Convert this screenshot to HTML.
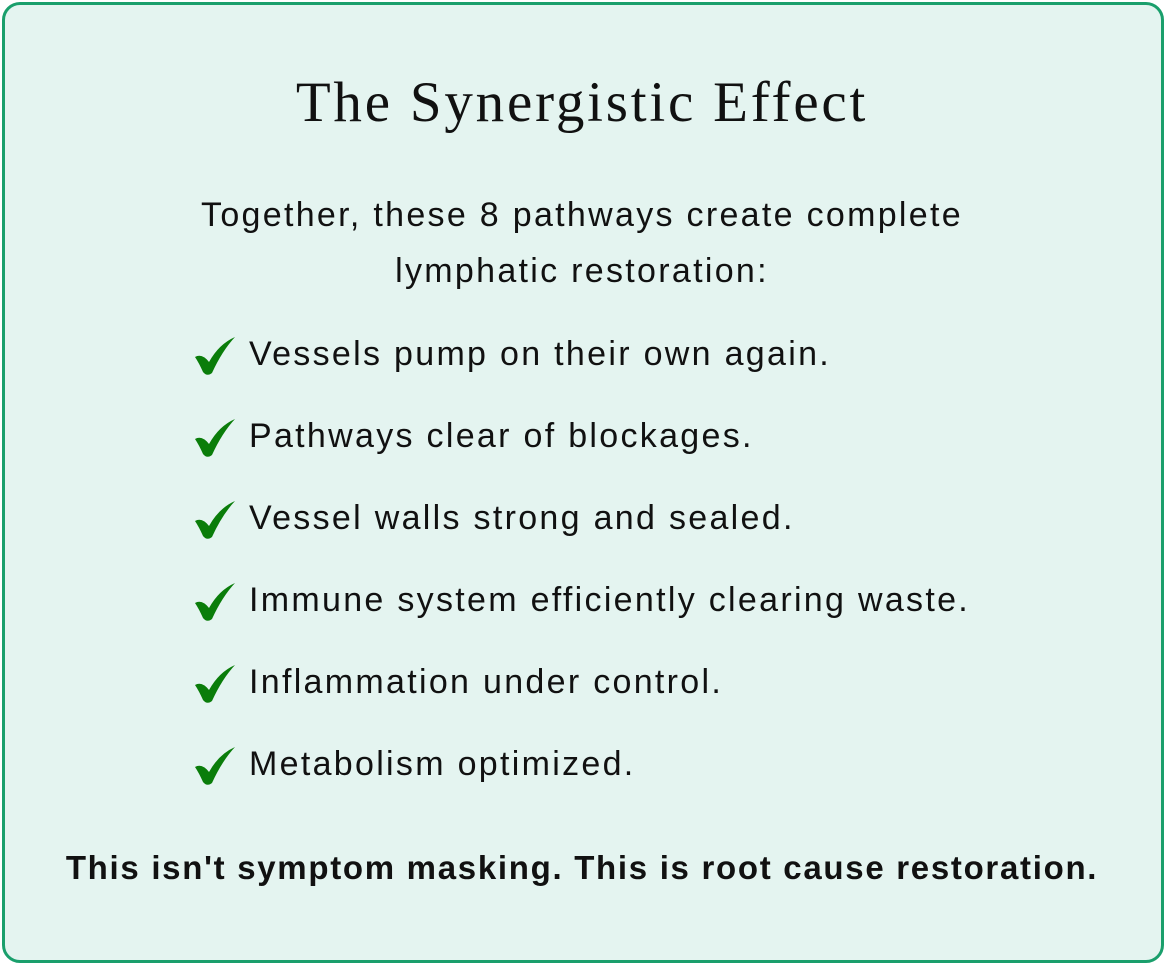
<!DOCTYPE html>
<html><head><style>
body{margin:0;width:1164px;height:963px;background:#fff;font-family:"Liberation Sans",sans-serif;}
.box{position:absolute;left:2px;top:2px;width:1156px;height:955px;border:3px solid #1a9f6c;border-radius:18px;background:#e4f4f0;}
.t{position:absolute;left:0;width:1164px;text-align:center;color:#111;white-space:nowrap;}
.title{font-family:"Liberation Serif",serif;font-size:57px;letter-spacing:2.8px;top:70px;}
.sub{font-size:34px;letter-spacing:2.3px;line-height:56px;top:187px;}
.item{position:absolute;left:194px;font-size:34px;letter-spacing:2.3px;color:#111;white-space:nowrap;height:50px;line-height:50px;}
.item svg{position:absolute;left:0;top:6px;}
.item span{position:absolute;left:55px;}
.bot{font-size:33px;letter-spacing:1.7px;font-weight:bold;top:849px;}
</style></head><body>
<div class="box"></div>
<div class="t title">The Synergistic Effect</div>
<div class="t sub">Together, these 8 pathways create complete<br>lymphatic restoration:</div>
<svg width="0" height="0" style="position:absolute"><defs><path id="ck" d="M1 22 Q8 18 15 27 Q25 9 41 2 Q28 16 18 38 Q13 42 9 37 Q5 28 1 22 Z" fill="#0a7d0a"/></defs></svg>
<div class="item" style="top:329px"><svg width="44" height="42"><use href="#ck"/></svg><span>Vessels pump on their own again.</span></div>
<div class="item" style="top:411px"><svg width="44" height="42"><use href="#ck"/></svg><span>Pathways clear of blockages.</span></div>
<div class="item" style="top:493px"><svg width="44" height="42"><use href="#ck"/></svg><span>Vessel walls strong and sealed.</span></div>
<div class="item" style="top:575px"><svg width="44" height="42"><use href="#ck"/></svg><span>Immune system efficiently clearing waste.</span></div>
<div class="item" style="top:657px"><svg width="44" height="42"><use href="#ck"/></svg><span>Inflammation under control.</span></div>
<div class="item" style="top:739px"><svg width="44" height="42"><use href="#ck"/></svg><span>Metabolism optimized.</span></div>
<div class="t bot">This isn't symptom masking. This is root cause restoration.</div>
</body></html>
